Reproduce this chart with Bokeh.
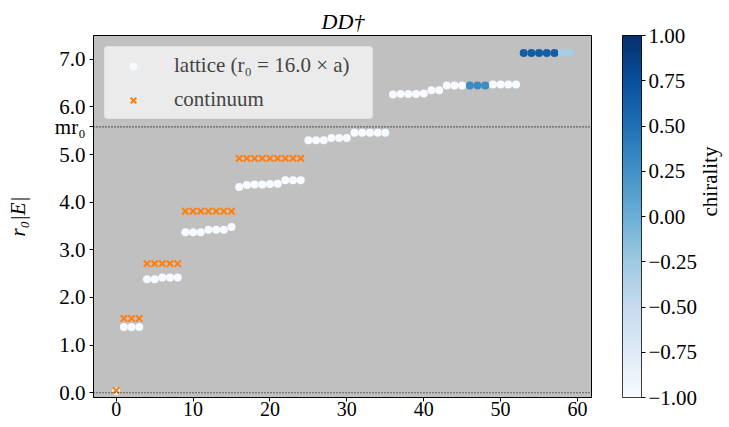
import math
import numpy as np
from bokeh.plotting import figure
from bokeh.layouts import row
from bokeh.models import (LinearColorMapper, FixedTicker, Span, ColumnDataSource,
                          Legend, LegendItem, Range1d)
from bokeh.transform import transform
from bokeh.palettes import Blues256
from bokeh.embed import file_html
from bokeh.resources import INLINE

# ---- data ----
lattice_idx = list(range(60))
lattice_E = [0.03,
             1.38, 1.38, 1.38,
             2.38, 2.38, 2.42, 2.42, 2.42,
             3.37, 3.37, 3.37, 3.42, 3.42, 3.42, 3.48,
             4.32, 4.36, 4.37, 4.37, 4.38, 4.39, 4.46, 4.46, 4.46,
             5.30, 5.30, 5.30, 5.35, 5.35, 5.35, 5.46, 5.46, 5.46, 5.46, 5.46,
             6.26, 6.27, 6.27, 6.27, 6.28, 6.35, 6.35, 6.45, 6.45, 6.45,
             6.45, 6.45, 6.45, 6.47, 6.47, 6.47, 6.47,
             7.13, 7.13, 7.13, 7.13, 7.13, 7.13, 7.13]
chirality = [-1.0] * 46 + [0.3, 0.3, 0.3] + [-1.0] * 4 + [0.65] * 5 + [-0.3, -0.3]
cont_idx = list(range(25))
cont_E = [0.05,
          1.56, 1.56, 1.56,
          2.71, 2.71, 2.71, 2.71, 2.71,
          3.81, 3.81, 3.81, 3.81, 3.81, 3.81, 3.81,
          4.92, 4.92, 4.92, 4.92, 4.92, 4.92, 4.92, 4.92, 4.92]
mr0 = 5.58
y_ticks = [0, 1, 2, 3, 4, 5, 6, 7]
x_ticks = [0, 10, 20, 30, 40, 50, 60]
cbar_ticks = [-1.0, -0.75, -0.5, -0.25, 0.0, 0.25, 0.5, 0.75, 1.0]

FONT = "Liberation Serif"
FS = "21px"
TOP = 35
FH = 362
BOT = 30

p = figure(frame_width=499, frame_height=FH,
           x_range=Range1d(-2.95, 61.95), y_range=Range1d(-0.1, 7.5),
           output_backend="svg", toolbar_location=None,
           min_border_left=93, min_border_top=TOP, min_border_bottom=BOT, min_border_right=0,
           title="DD\u2020")
p.title.text_font = FONT
p.title.text_font_style = "italic"
p.title.text_font_size = "22px"
p.title.align = "center"
p.title.text_color = "black"
p.title.standoff = 4

p.background_fill_color = "#c0c0c0"
p.border_fill_color = "white"
p.outline_line_color = "black"
p.outline_line_width = 1
p.grid.visible = False

for ax in (p.xaxis[0], p.yaxis[0]):
    ax.major_label_text_font = FONT
    ax.major_label_text_font_size = FS
    ax.major_label_text_color = "black"
    ax.major_tick_in = 0
    ax.major_tick_out = 4
    ax.minor_tick_line_color = None
    ax.axis_line_color = "black"
    ax.major_tick_line_color = "black"
    ax.axis_label_text_font = FONT
    ax.axis_label_text_font_size = FS
    ax.axis_label_text_font_style = "italic"
    ax.axis_label_text_color = "black"

p.xaxis.ticker = FixedTicker(ticks=x_ticks)
p.xaxis.major_label_standoff = 0
p.xaxis.major_label_text_font_size = "20px"
yt = y_ticks[:6] + [mr0] + y_ticks[6:]
p.yaxis.ticker = FixedTicker(ticks=yt)
ov = {t: f"{t:.1f}" for t in y_ticks}
ov[mr0] = "mr\u2080"
p.yaxis.major_label_overrides = ov
p.yaxis.major_label_standoff = 4
p.yaxis.axis_label = "r\u2080|E|"
p.yaxis.axis_label_standoff = 22

for yv in (0.0, mr0):
    p.add_layout(Span(location=yv, dimension="width", line_color="black",
                      line_width=1.2, line_dash="1 2"))

mapper = LinearColorMapper(palette=list(Blues256[::-1]), low=-1, high=1)

lat_src = ColumnDataSource(dict(x=lattice_idx, y=lattice_E, c=chirality))
cont_src = ColumnDataSource(dict(x=cont_idx, y=cont_E))

r_lat = p.scatter("x", "y", source=lat_src, size=8, marker="circle",
                  fill_color=transform("c", mapper), line_color=None)
r_cont = p.scatter("x", "y", source=cont_src, size=9, marker="x",
                   line_color="#ff7f0e", line_width=2)

legend = Legend(items=[LegendItem(label="lattice (r\u2080 = 16.0 \u00d7 a)", renderers=[r_lat], index=0),
                       LegendItem(label="continuum", renderers=[r_cont], index=0)],
                location="top_left")
legend.label_text_font = FONT
legend.label_text_font_size = FS
legend.background_fill_color = "#f2f2f2"
legend.background_fill_alpha = 0.85
legend.border_line_color = "#d8d8d8"
legend.border_radius = 4
legend.margin = 11
legend.padding = 6
legend.spacing = 9
legend.label_height = 20
legend.label_width = 192
legend.glyph_height = 20
legend.glyph_width = 44
legend.label_standoff = 19
p.add_layout(legend)

# ---- colour bar as its own small figure ----
cb = figure(frame_width=19, frame_height=FH, x_range=Range1d(0, 1), y_range=Range1d(-1, 1),
            output_backend="svg", toolbar_location=None, y_axis_location="right",
            min_border_left=30, min_border_top=TOP, min_border_bottom=BOT, min_border_right=0)
grad = np.linspace(-1, 1, 256).reshape(-1, 1)
cb.image(image=[grad], x=0, y=-1, dw=1, dh=2, color_mapper=mapper)
cb.xaxis.visible = False
cb.grid.visible = False
cb.outline_line_color = "black"
cb.background_fill_color = None
cb.border_fill_color = "white"
yax = cb.yaxis[0]
yax.ticker = FixedTicker(ticks=cbar_ticks)
yax.major_label_overrides = {t: f"{t:.2f}".replace("-", "\u2212") for t in cbar_ticks}
yax.major_label_text_font = FONT
yax.major_label_text_font_size = FS
yax.major_label_text_color = "black"
yax.major_tick_in = 0
yax.major_tick_out = 4
yax.major_label_standoff = 3
yax.minor_tick_line_color = None
yax.axis_line_color = None
yax.major_tick_line_color = "black"
yax.axis_label = "chirality"
yax.axis_label_text_font = FONT
yax.axis_label_text_font_size = FS
yax.axis_label_text_font_style = "normal"
yax.axis_label_text_color = "black"
yax.axis_label_standoff = 10
if "axis_label_orientation" in yax.properties():
    yax.axis_label_orientation = math.pi / 2

layout = row(p, cb)
open("out.html", "w").write(file_html(layout, INLINE))
